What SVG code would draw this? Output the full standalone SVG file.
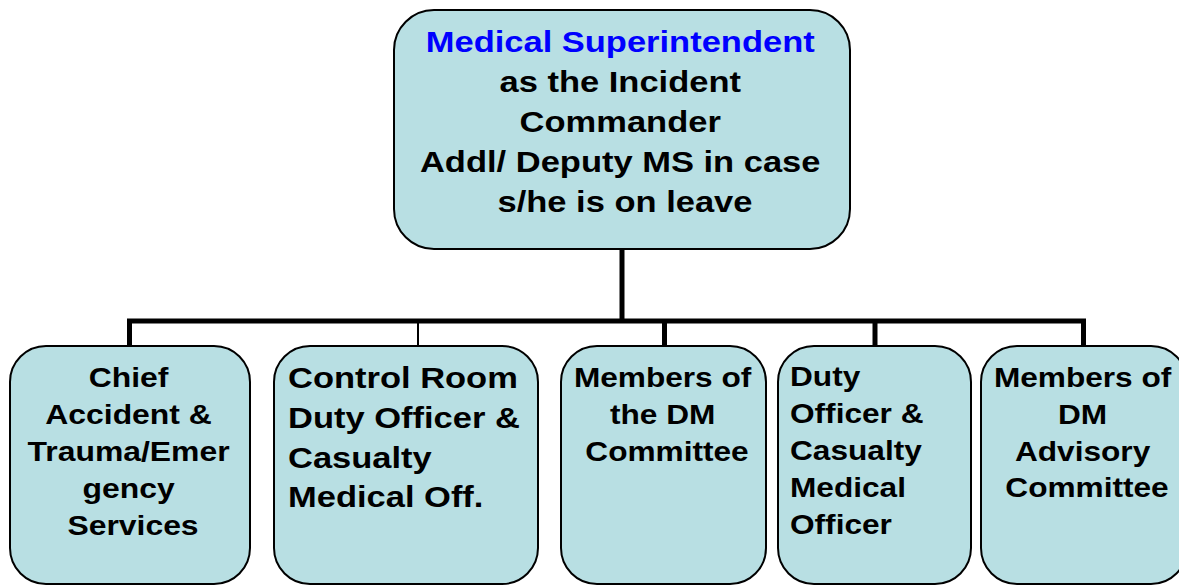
<svg xmlns="http://www.w3.org/2000/svg" width="1179" height="586" viewBox="0 0 1179 586">
<style>
.box{fill:#B8DFE3;stroke:#000;stroke-width:2}
.t{font-family:"Liberation Sans",Arial,sans-serif;font-weight:bold;fill:#000}
.big{font-size:30px}
.sm{font-size:27.5px}
.blue{fill:#0000FF}
.conn{fill:none;stroke:#000;stroke-width:5;stroke-linejoin:miter;stroke-linecap:butt}
</style>
<rect width="1179" height="586" fill="#fff"/>
<g id="connectors">
<path class="conn" d="M622,249 V321"/>
<path class="conn" d="M129.5,346 V321 H1083.5 V346"/>
<path class="conn" d="M664.5,321 V346"/>
<path class="conn" d="M875,321 V346"/>
<path d="M418,321 V346" stroke="#000" stroke-width="2"/>
</g>
<g id="node-ms">
<rect class="box" x="394" y="10" width="456" height="239" rx="40" ry="40"/>
<text class="t big" text-anchor="middle" transform="translate(625,0) scale(1.15,1)">
<tspan class="blue" x="0" y="52">Medical Superintendent</tspan>
<tspan x="0" y="92">as the Incident</tspan>
<tspan x="0" y="132">Commander</tspan>
<tspan x="0" y="172">Addl/ Deputy MS in case</tspan>
<tspan x="0" y="212">s/he is on leave</tspan>
</text>
</g>
<g id="node-chief">
<rect class="box" x="10" y="346" width="240" height="238" rx="36" ry="36"/>
<text class="t sm" text-anchor="middle" transform="translate(133,0) scale(1.16,1)">
<tspan x="0" y="387">Chief</tspan>
<tspan x="0" y="424">Accident &amp;</tspan>
<tspan x="0" y="461">Trauma/Emer</tspan>
<tspan x="0" y="498">gency</tspan>
<tspan x="0" y="535">Services</tspan>
</text>
</g>
<g id="node-control">
<rect class="box" x="274" y="346" width="264" height="238" rx="36" ry="36"/>
<text class="t big" transform="translate(288,0) scale(1.15,1)">
<tspan x="0" y="388">Control Room</tspan>
<tspan x="0" y="428">Duty Officer &amp;</tspan>
<tspan x="0" y="468">Casualty</tspan>
<tspan x="0" y="507">Medical Off.</tspan>
</text>
</g>
<g id="node-dm">
<rect class="box" x="561" y="346" width="205" height="238" rx="36" ry="36"/>
<text class="t sm" text-anchor="middle" transform="translate(667,0) scale(1.15,1)">
<tspan x="0" y="387">Members of</tspan>
<tspan x="0" y="424">the DM</tspan>
<tspan x="0" y="461">Committee</tspan>
</text>
</g>
<g id="node-duty">
<rect class="box" x="778" y="346" width="193" height="238" rx="36" ry="36"/>
<text class="t sm" transform="translate(790,0) scale(1.15,1)">
<tspan x="0" y="386">Duty</tspan>
<tspan x="0" y="423">Officer &amp;</tspan>
<tspan x="0" y="460">Casualty</tspan>
<tspan x="0" y="497">Medical</tspan>
<tspan x="0" y="534">Officer</tspan>
</text>
</g>
<g id="node-advisory">
<rect class="box" x="981" y="346" width="206" height="238" rx="36" ry="36"/>
<text class="t sm" text-anchor="middle" transform="translate(1087,0) scale(1.15,1)">
<tspan x="0" y="387">Members of</tspan>
<tspan x="0" y="424">DM</tspan>
<tspan x="0" y="461">Advisory</tspan>
<tspan x="0" y="497">Committee</tspan>
</text>
</g>
</svg>
